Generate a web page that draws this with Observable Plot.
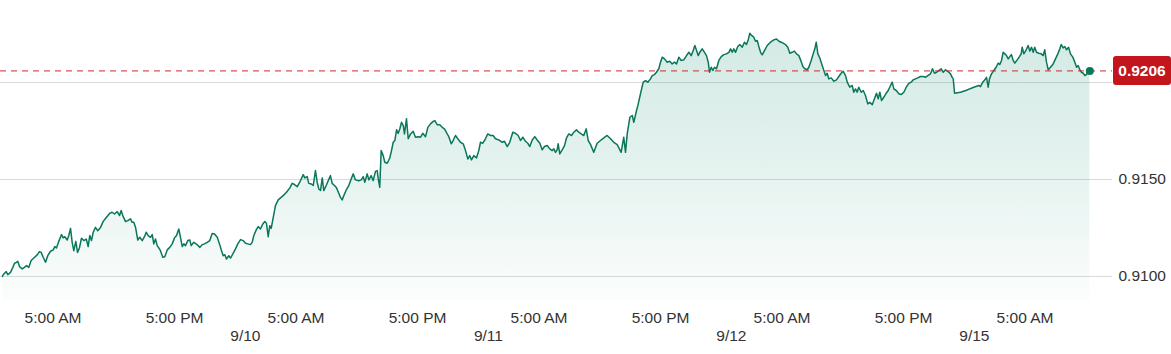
<!DOCTYPE html>
<html>
<head>
<meta charset="utf-8">
<script src="https://cdn.jsdelivr.net/npm/d3@7"></script>
<script src="https://cdn.jsdelivr.net/npm/@observablehq/plot@0.6"></script>
<style>
html, body { margin: 0; padding: 0; background: #ffffff; overflow: hidden; }
#chart svg { display: block; }
</style>
</head>
<body>
<div id="chart"></div>
<script>
// Trading hours since 9/9 00:00 (weekend removed)
const hours = [
0, 0.14, 0.38, 0.53, 0.80, 1.03, 1.20, 1.39, 1.52, 1.69,
1.96, 2.18, 2.38, 2.61, 2.84, 3.10, 3.44, 3.66, 3.83, 4.03,
4.26, 4.48, 4.75, 5.02, 5.18, 5.34, 5.57, 5.84, 6.00, 6.16,
6.40, 6.56, 6.73, 6.89, 7.05, 7.25, 7.42, 7.61, 7.81, 8.04,
8.28, 8.47, 8.63, 8.80, 8.97, 9.19, 9.42, 9.69, 9.96, 10.28,
10.61, 10.84, 11.07, 11.34, 11.57, 11.73, 11.89, 12.16, 12.38, 12.65,
12.82, 12.98, 13.15, 13.37, 13.57, 13.81, 14.03, 14.20, 14.40, 14.63,
14.80, 14.95, 15.12, 15.29, 15.45, 15.61, 15.84, 16.04, 16.28, 16.53,
16.77, 17.00, 17.20, 17.42, 17.59, 17.76, 17.92, 18.08, 18.31, 18.51,
18.65, 18.90, 19.24, 19.50, 19.73, 19.96, 20.23, 20.48, 20.72, 20.95,
21.22, 21.44, 21.64, 21.81, 21.97, 22.13, 22.36, 22.53, 22.76, 23.02,
23.25, 23.52, 23.78, 24.01, 24.24, 24.50, 24.67, 24.83, 25.07, 25.26,
25.49, 25.72, 25.92, 26.08, 26.25, 26.41, 26.55, 26.75, 26.97, 27.24, 27.47,
27.73, 28.06, 28.39, 28.62, 28.85, 29.12, 29.37, 29.71, 29.87, 30.10,
30.26, 30.50, 30.70, 30.92, 31.09, 31.25, 31.42, 31.59, 31.74, 31.98,
32.18, 32.40, 32.57, 32.80, 33.00, 33.22, 33.39, 33.56, 33.72, 33.96,
34.21, 34.45, 34.65, 34.87, 35.20, 35.44, 35.64, 35.79, 36.03, 36.19,
36.42, 36.62, 36.85, 37.02, 37.12, 37.27, 37.41, 37.61, 37.77, 38.01,
38.26, 38.43, 38.60, 38.76, 38.93, 39.09, 39.25, 39.42, 39.59, 39.71,
39.91, 40.08, 40.31, 40.57, 40.80, 41.07, 41.30, 41.52, 41.79, 42.02,
42.28, 42.55, 42.71, 42.94, 43.20, 43.44, 43.66, 43.93, 44.09, 44.33,
44.52, 44.75, 44.98, 45.24, 45.51, 45.74, 45.97, 46.16, 46.33, 46.56,
46.82, 47.05, 47.22, 47.45, 47.71, 47.94, 48.21, 48.47, 48.70, 49.03,
49.36, 49.59, 49.86, 50.11, 50.41, 50.68, 50.94, 51.17, 51.40, 51.67,
51.89, 52.09, 52.33, 52.58, 52.82, 53.08, 53.31, 53.54, 53.81, 54.06,
54.30, 54.46, 54.63, 54.79, 54.89, 55.05, 55.29, 55.52, 55.72, 55.94,
56.21, 56.44, 56.70, 56.93, 57.17, 57.42, 57.66, 57.86, 58.09, 58.41,
58.74, 59.07, 59.40, 59.73, 60.06, 60.39, 60.72,
61.11, 61.37, 61.54, 61.71, 61.97, 62.21, 62.36, 62.63, 62.76, 63.02,
63.29, 63.52, 63.74, 64.01, 64.18, 64.41, 64.60, 64.83, 65.00, 65.17,
65.39, 65.66, 65.92, 66.15, 66.38, 66.58, 66.81, 67.04, 67.30, 67.57,
67.80, 68.03, 68.23, 68.39, 68.56, 68.72, 68.88, 69.12, 69.34, 69.54,
69.71, 69.84, 70.01, 70.17, 70.33, 70.53, 70.76, 71.00, 71.25, 71.52,
71.75, 71.92, 72.08, 72.24, 72.41, 72.63, 72.83, 73.07, 73.29, 73.49,
73.66, 73.82, 73.99, 74.21, 74.38, 74.55, 74.71, 74.88, 75.04, 75.27,
75.54, 75.86, 76.19, 76.46, 76.69, 76.92, 77.12, 77.34, 77.57, 77.77,
78.00, 78.23, 78.43, 78.66, 78.83, 79.06, 79.25, 79.49, 79.65, 79.88,
80.08, 80.24, 80.38, 80.54, 80.73, 80.97, 81.13, 81.30, 81.46, 81.62,
81.86, 82.12, 82.38, 82.61, 82.84, 83.04, 83.27, 83.44, 83.69, 83.93,
84.09, 84.26, 84.42, 84.58, 84.82, 85.02, 85.24, 85.47, 85.67, 85.91,
86.13, 86.33, 86.50, 86.66, 86.83, 87.05, 87.29, 87.49, 87.72, 87.88,
88.04, 88.28, 88.54, 88.77, 89.03, 89.27, 89.52, 89.76, 89.96, 90.18,
90.41, 90.68, 90.94, 91.17, 91.40, 91.67, 91.86, 92.06, 92.26, 92.49,
92.72, 92.92, 93.15, 93.37, 93.64, 93.81, 93.91, 94.04, 94.63, 95.29,
95.94, 96.44, 96.60, 96.83, 97.03, 97.20, 97.36, 97.49, 97.69, 97.92,
98.15, 98.35, 98.51, 98.68, 98.84, 99.00, 99.17, 99.34, 99.50, 99.66,
99.83, 99.99, 100.23, 100.45, 100.62, 100.72, 100.88, 101.12, 101.31, 101.47,
101.64, 101.81, 101.96, 102.13, 102.36, 102.60, 102.79, 102.95, 103.12, 103.29,
103.52, 103.78, 104.01, 104.24, 104.44, 104.58, 104.77, 104.93, 105.10, 105.30,
105.49, 105.72, 105.92, 106.09, 106.25, 106.41, 106.58, 106.75, 106.91, 107.07, 107.20,
107.40
];

const prices = [
0.91000, 0.91013, 0.91025, 0.91009, 0.91021, 0.91047, 0.91068, 0.91073, 0.91078, 0.91051,
0.91039, 0.91047, 0.91056, 0.91047, 0.91082, 0.91095, 0.91111, 0.91128, 0.91124, 0.91099,
0.91073, 0.91107, 0.91130, 0.91137, 0.91154, 0.91147, 0.91181, 0.91216, 0.91199, 0.91205,
0.91188, 0.91211, 0.91248, 0.91176, 0.91133, 0.91181, 0.91124, 0.91147, 0.91197, 0.91185,
0.91193, 0.91154, 0.91211, 0.91185, 0.91228, 0.91253, 0.91236, 0.91253, 0.91284, 0.91305,
0.91326, 0.91331, 0.91322, 0.91334, 0.91314, 0.91340, 0.91314, 0.91283, 0.91288, 0.91297,
0.91279, 0.91279, 0.91253, 0.91188, 0.91202, 0.91185, 0.91205, 0.91228, 0.91211, 0.91202,
0.91216, 0.91168, 0.91193, 0.91159, 0.91147, 0.91133, 0.91099, 0.91102, 0.91137, 0.91150,
0.91168, 0.91199, 0.91211, 0.91245, 0.91202, 0.91154, 0.91168, 0.91159, 0.91185, 0.91188,
0.91159, 0.91176, 0.91164, 0.91150, 0.91164, 0.91168, 0.91176, 0.91185, 0.91222, 0.91219,
0.91202, 0.91168, 0.91133, 0.91107, 0.91112, 0.91090, 0.91107, 0.91095, 0.91116, 0.91142,
0.91168, 0.91190, 0.91185, 0.91171, 0.91168, 0.91164, 0.91176, 0.91211, 0.91240, 0.91257,
0.91245, 0.91271, 0.91283, 0.91274, 0.91205, 0.91262, 0.91248, 0.91305, 0.91365, 0.91395, 0.91405,
0.91417, 0.91434, 0.91457, 0.91480, 0.91474, 0.91463, 0.91486, 0.91525, 0.91508, 0.91515,
0.91480, 0.91477, 0.91469, 0.91546, 0.91486, 0.91451, 0.91443, 0.91508, 0.91443, 0.91469,
0.91494, 0.91520, 0.91480, 0.91469, 0.91457, 0.91429, 0.91408, 0.91395, 0.91417, 0.91446,
0.91469, 0.91503, 0.91529, 0.91498, 0.91494, 0.91498, 0.91515, 0.91486, 0.91529, 0.91498,
0.91520, 0.91494, 0.91542, 0.91546, 0.91503, 0.91460, 0.91649, 0.91623, 0.91589, 0.91584,
0.91611, 0.91649, 0.91692, 0.91701, 0.91756, 0.91738, 0.91761, 0.91795, 0.91778, 0.91735,
0.91813, 0.91710, 0.91735, 0.91749, 0.91718, 0.91721, 0.91718, 0.91738, 0.91721, 0.91769,
0.91787, 0.91800, 0.91804, 0.91783, 0.91783, 0.91769, 0.91761, 0.91735, 0.91721, 0.91684,
0.91701, 0.91727, 0.91710, 0.91692, 0.91684, 0.91649, 0.91606, 0.91623, 0.91601, 0.91623,
0.91611, 0.91649, 0.91692, 0.91687, 0.91710, 0.91735, 0.91727, 0.91727, 0.91710, 0.91704,
0.91692, 0.91697, 0.91670, 0.91692, 0.91744, 0.91738, 0.91727, 0.91701, 0.91718, 0.91697,
0.91687, 0.91670, 0.91704, 0.91721, 0.91704, 0.91687, 0.91653, 0.91670, 0.91675, 0.91658,
0.91649, 0.91658, 0.91640, 0.91653, 0.91684, 0.91632, 0.91653, 0.91675, 0.91715, 0.91735,
0.91727, 0.91744, 0.91756, 0.91744, 0.91735, 0.91727, 0.91761, 0.91701, 0.91680, 0.91640,
0.91687, 0.91701, 0.91715, 0.91727, 0.91710, 0.91692, 0.91680,
0.91640, 0.91718, 0.91640, 0.91735, 0.91821, 0.91830, 0.91795, 0.91856, 0.91881, 0.91942,
0.92002, 0.92010, 0.92002, 0.92019, 0.92036, 0.92041, 0.92053, 0.92071, 0.92105, 0.92131,
0.92122, 0.92105, 0.92110, 0.92096, 0.92105, 0.92096, 0.92131, 0.92114, 0.92117, 0.92139,
0.92156, 0.92139, 0.92165, 0.92191, 0.92165, 0.92139, 0.92156, 0.92174, 0.92156, 0.92139,
0.92105, 0.92053, 0.92079, 0.92062, 0.92079, 0.92071, 0.92114, 0.92134, 0.92144, 0.92148,
0.92156, 0.92174, 0.92156, 0.92174, 0.92156, 0.92186, 0.92196, 0.92182, 0.92208, 0.92196,
0.92220, 0.92254, 0.92243, 0.92234, 0.92213, 0.92217, 0.92186, 0.92156, 0.92143, 0.92165,
0.92191, 0.92208, 0.92220, 0.92225, 0.92213, 0.92208, 0.92203, 0.92196, 0.92182, 0.92151,
0.92156, 0.92162, 0.92148, 0.92139, 0.92117, 0.92083, 0.92071, 0.92066, 0.92079, 0.92114,
0.92148, 0.92174, 0.92208, 0.92148, 0.92127, 0.92088, 0.92062, 0.92036, 0.92048, 0.92019,
0.92024, 0.92007, 0.92014, 0.92031, 0.92048, 0.92058, 0.92036, 0.92002, 0.91976, 0.91985,
0.91950, 0.91967, 0.91950, 0.91976, 0.91950, 0.91959, 0.91933, 0.91890, 0.91898, 0.91886,
0.91916, 0.91945, 0.91916, 0.91950, 0.91907, 0.91924, 0.91945, 0.91959, 0.91985, 0.92002,
0.91967, 0.91959, 0.91942, 0.91938, 0.91950, 0.91976, 0.91996, 0.92002, 0.92014, 0.92019,
0.92024, 0.92031, 0.92031, 0.92027, 0.92036, 0.92045, 0.92071, 0.92048, 0.92053, 0.92062,
0.92071, 0.92053, 0.92066, 0.92058, 0.92045, 0.92027, 0.92019, 0.91945, 0.91950, 0.91962,
0.91976, 0.91985, 0.91979, 0.92002, 0.92014, 0.92027, 0.91976, 0.92019, 0.92045, 0.92062,
0.92079, 0.92100, 0.92093, 0.92114, 0.92156, 0.92148, 0.92139, 0.92122, 0.92134, 0.92144,
0.92114, 0.92100, 0.92117, 0.92134, 0.92148, 0.92182, 0.92148, 0.92169, 0.92191, 0.92162,
0.92182, 0.92156, 0.92182, 0.92156, 0.92151, 0.92148, 0.92139, 0.92169, 0.92105, 0.92066,
0.92079, 0.92096, 0.92122, 0.92148, 0.92174, 0.92196, 0.92179, 0.92186, 0.92169, 0.92182,
0.92148, 0.92131, 0.92105, 0.92079, 0.92088, 0.92066, 0.92053, 0.92048, 0.92036, 0.92041, 0.92053,
0.92060
];

const yTicks = [0.9100, 0.9150, 0.9200];
const yTickLabels = ["0.9100", "0.9150", ""];
const timeTicks = [5, 17, 29, 41, 53, 65, 77, 89, 101];
const timeTickLabels = ["5:00 AM", "5:00 PM", "5:00 AM", "5:00 PM", "5:00 AM", "5:00 PM", "5:00 AM", "5:00 PM", "5:00 AM"];
const dateTicks = [24, 48, 72, 96];
const dateTickLabels = ["9/10", "9/11", "9/12", "9/15"];
const lastPrice = 0.9206;
const lastPriceLabel = "0.9206";

const n = Math.min(hours.length, prices.length);
const data = d3.range(n).map(i => ({h: hours[i], p: prices[i]}));
const last = data[data.length - 1];

const yMin = 0.90876, yMax = 0.92320;
const lineColor = "#0a775c";
const textColor = "#333333";
const font = "'Liberation Sans', Arial, Helvetica, sans-serif";
const ns = "http://www.w3.org/2000/svg";

function gradientDefs() {
  const defs = document.createElementNS(ns, "defs");
  const lg = document.createElementNS(ns, "linearGradient");
  lg.setAttribute("id", "areaFill");
  lg.setAttribute("x1", "0"); lg.setAttribute("y1", "0");
  lg.setAttribute("x2", "0"); lg.setAttribute("y2", "1");
  [[0, 0.18], [0.55, 0.10], [1, 0.015]].forEach(([o, a]) => {
    const s = document.createElementNS(ns, "stop");
    s.setAttribute("offset", o);
    s.setAttribute("stop-color", "#0b8a68");
    s.setAttribute("stop-opacity", a);
    lg.appendChild(s);
  });
  defs.appendChild(lg);
  return defs;
}

function badge(index, scales, values, dims) {
  const g = document.createElementNS(ns, "g");
  const y = scales.y(lastPrice);
  const x0 = dims.width - dims.marginRight + 1;
  const w = dims.width - x0;
  const r = document.createElementNS(ns, "rect");
  r.setAttribute("x", x0);
  r.setAttribute("y", y - 14.5);
  r.setAttribute("width", w);
  r.setAttribute("height", 29);
  r.setAttribute("rx", 3);
  r.setAttribute("fill", "#c3161c");
  g.appendChild(r);
  const t = document.createElementNS(ns, "text");
  t.setAttribute("x", x0 + w / 2);
  t.setAttribute("y", y);
  t.setAttribute("dy", "0.36em");
  t.setAttribute("text-anchor", "middle");
  t.setAttribute("fill", "#ffffff");
  t.setAttribute("font-weight", "bold");
  t.setAttribute("font-size", 15.5);
  t.setAttribute("font-family", font);
  t.textContent = lastPriceLabel;
  g.appendChild(t);
  return g;
}

const chart = Plot.plot({
  width: 1171,
  height: 354,
  marginLeft: 0,
  marginRight: 59,
  marginTop: 20,
  marginBottom: 54,
  style: {fontFamily: font, background: "#ffffff", overflow: "visible"},
  x: {domain: [0, 108], range: [1.9, 1095.4], axis: null},
  y: {domain: [yMin, yMax], axis: null},
  marks: [
    gradientDefs,
    Plot.ruleY(yTicks, {stroke: "#dadada", strokeWidth: 1}),
    Plot.areaY(data, {x: "h", y1: yMin, y2: "p", fill: "url(#areaFill)", curve: "linear"}),
    Plot.line(data, {x: "h", y: "p", stroke: lineColor, strokeWidth: 1.5, curve: "linear"}),
    Plot.ruleY([lastPrice], {stroke: "#cc2b2b", strokeWidth: 1, strokeDasharray: "6,5"}),
    Plot.dot([last], {x: "h", y: "p", r: 4, fill: lineColor, stroke: null}),
    Plot.text(yTicks, {y: d => d, text: (d, i) => yTickLabels[i], frameAnchor: "right", textAnchor: "start", dx: 6, fontSize: 15.5, fill: textColor}),
    Plot.text(timeTicks, {x: d => d, text: (d, i) => timeTickLabels[i], frameAnchor: "bottom", dy: 22, fontSize: 15.5, fill: textColor}),
    Plot.text(dateTicks, {x: d => d, text: (d, i) => dateTickLabels[i], frameAnchor: "bottom", dy: 40, fontSize: 15.5, fill: textColor}),
    badge
  ]
});

document.getElementById("chart").appendChild(chart);
</script>
</body>
</html>
